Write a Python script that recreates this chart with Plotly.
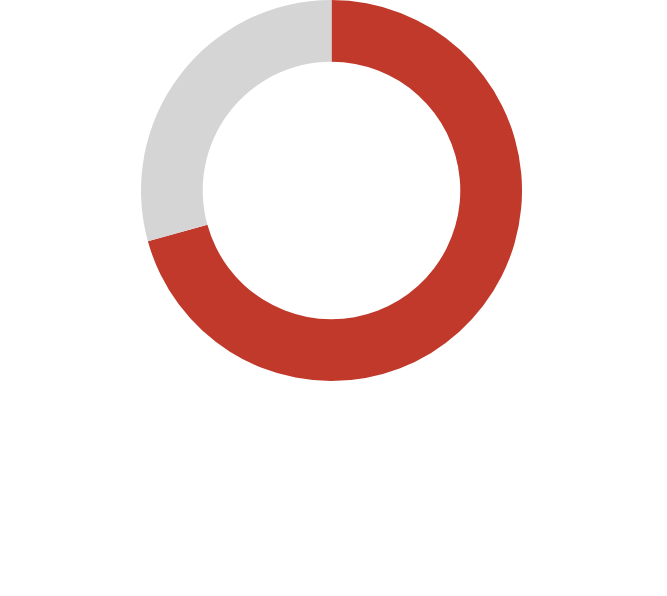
import plotly.graph_objects as go

labels = ["Share", "Remainder"]
values = [70.7, 29.3]
colors = ["#c0392b", "#d5d5d5"]

fig = go.Figure(go.Pie(
    labels=labels,
    values=values,
    hole=0.676,
    sort=False,
    direction="clockwise",
    rotation=0,
    marker=dict(colors=colors, line=dict(width=0)),
    textinfo="none",
    hoverinfo="label+percent",
    domain=dict(x=[0, 663/667], y=[1 - 381/596, 1]),
))
fig.update_layout(
    width=667, height=596,
    margin=dict(l=0, r=0, t=0, b=0),
    showlegend=False,
    paper_bgcolor="white",
    plot_bgcolor="white",
)
fig.write_html("out.html")
